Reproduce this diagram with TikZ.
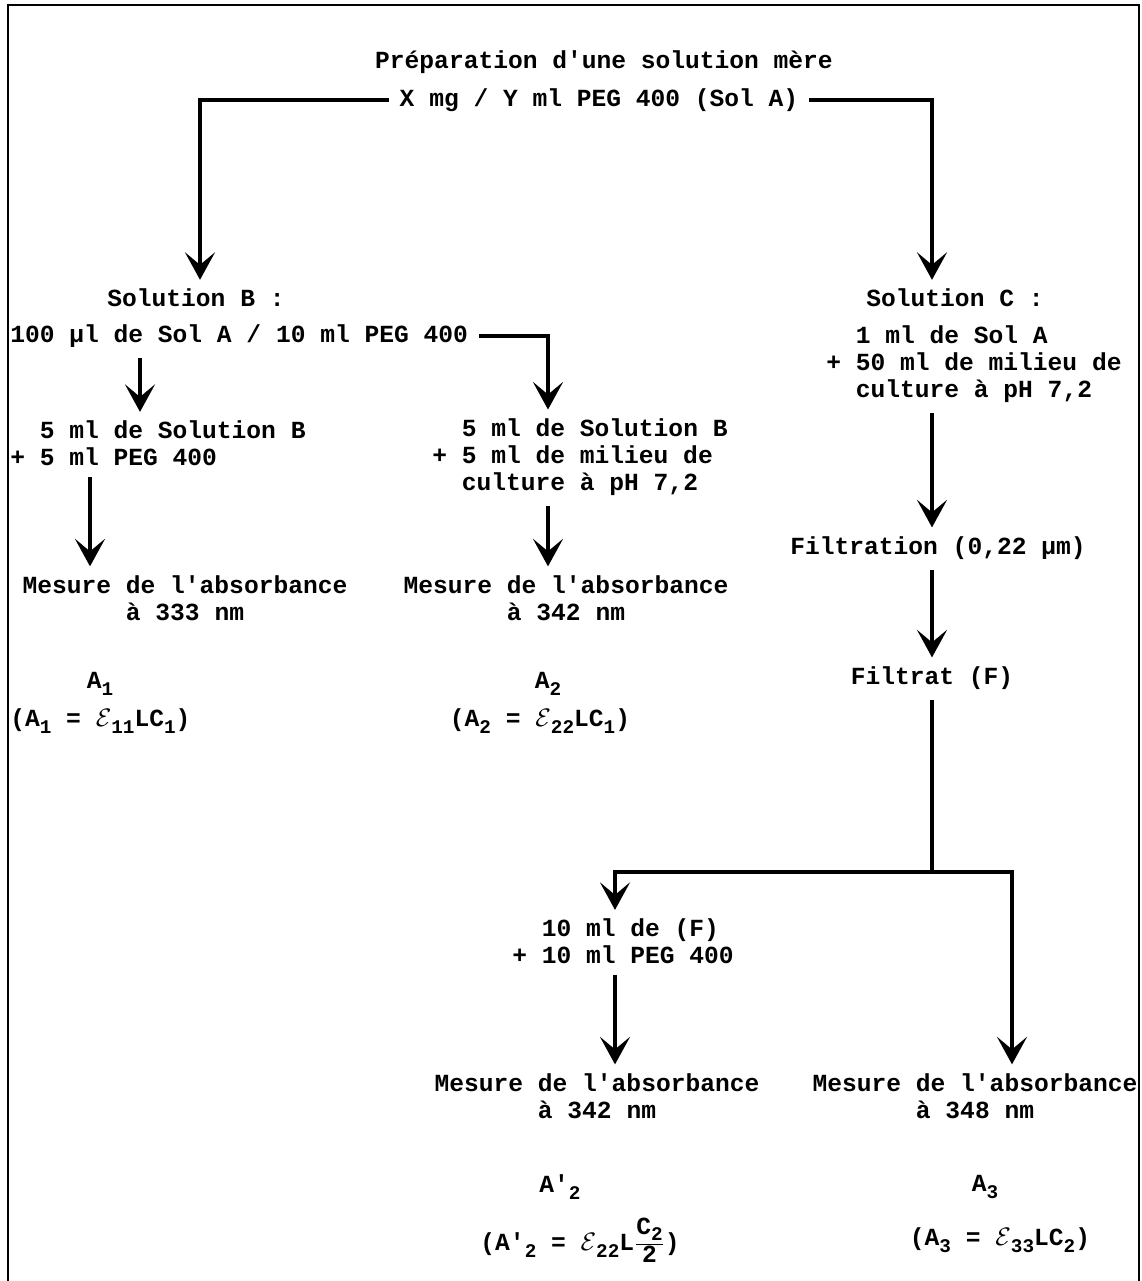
\documentclass[tikz,border=0pt]{standalone}
\usepackage{fontspec}
\setmonofont{Liberation Mono}
\usetikzlibrary{arrows.meta}
\newcommand\dn[1]{\raisebox{-0.5ex}{\fontsize{11}{11}\selectfont #1}}
\newcommand\epsl{\ensuremath{\mathcal{E}}}
\tikzset{
	txt/.style={font=\ttfamily\bfseries\fontsize{14}{15.3}\selectfont, inner sep=0pt},
	flow/.style={line width=2.4pt, -{Stealth[length=5.5mm,width=6mm,inset=2.5mm]}, shorten <=6pt, shorten >=5pt},
	link/.style={line width=2.4pt},
	frame/.style={line width=1.6pt}
}
\begin{document}
\begin{tikzpicture}[x=0.02cm, y=-0.02cm]
	\useasboundingbox (0,0) rectangle (1142,1281);
	\draw[frame] (8,1281) -- (8,5) -- (1139,5) -- (1139,1281);

	% columns of the arrows
	\coordinate (xl) at (200,0);
	\coordinate (xbl) at (140,0);
	\coordinate (xb1) at (90,0);
	\coordinate (xb2) at (548,0);
	\coordinate (xc) at (932,0);
	\coordinate (xd) at (615,0);
	\coordinate (xr) at (1012,0);

	\node[txt] (prep) at (604,62) {Préparation d'une solution mère};
	\node[txt] (solA) at (599,100) {X mg / Y ml PEG 400 (Sol A)};

	% left branch
	\node[txt] (solBt) at (196,298) {Solution B :};
	\node[txt, anchor=west] (solB) at (10,336) {100 µl de Sol A / 10 ml PEG 400};
	\node[txt, anchor=west, align=left] (b1) at (10,443.5) {\hphantom{+ }5 ml de Solution B\\+ 5 ml PEG 400};
	\node[txt, align=center] (m1) at (185,598) {Mesure de l'absorbance\\à 333 nm};
	\node[txt] (a1) at (100,684) {A\dn{1}};
	\node[txt, anchor=west] (f1) at (10,721) {(A\dn{1} = \epsl\dn{11}LC\dn{1})};

	\node[txt, anchor=west, align=left] (b2) at (432,457) {\hphantom{+ }5 ml de Solution B\\+ 5 ml de milieu de\\\hphantom{+ }culture à pH 7,2};
	\node[txt, align=center] (m2) at (566,598) {Mesure de l'absorbance\\à 342 nm};
	\node[txt] (a2) at (548,684) {A\dn{2}};
	\node[txt] (f2) at (540,721) {(A\dn{2} = \epsl\dn{22}LC\dn{1})};

	% right branch
	\node[txt] (solCt) at (955,298) {Solution C :};
	\node[txt, anchor=west, align=left] (solC) at (826,364) {\hphantom{+ }1 ml de Sol A\\+ 50 ml de milieu de\\\hphantom{+ }culture à pH 7,2};
	\node[txt] (filt) at (938,548) {Filtration (0,22 µm)};
	\node[txt] (filtrat) at (932,678) {Filtrat (F)};
	\coordinate (jn) at (932,872);

	\node[txt, anchor=west, align=left] (d1) at (512,941.5) {\hphantom{+ }10 ml de (F)\\+ 10 ml PEG 400};
	\node[txt, align=center] (m3) at (597,1096) {Mesure de l'absorbance\\à 342 nm};
	\node[txt, align=center] (m4) at (975,1096) {Mesure de l'absorbance\\à 348 nm};
	\node[txt] (a3) at (560,1187) {A'\dn{2}};
	\node[txt] (f3) at (580,1240) {(A'\dn{2} = \epsl\dn{22}L$\frac{\raisebox{0.5ex}{C\dn{2}}}{\hbox{2}}$)};
	\node[txt] (a4) at (985,1187) {A\dn{3}};
	\node[txt] (f4) at (1000,1240) {(A\dn{3} = \epsl\dn{33}LC\dn{2})};

	\draw[flow] (solA.west) -| (solBt.north -| xl);
	\draw[flow] (solA.east) -| (solCt.north -| xc);
	\draw[flow] (solB.south -| xbl) -- (b1.north -| xbl);
	\draw[flow] (solB.east) -| (b2.north -| xb2);
	\draw[flow] (b1.south -| xb1) -- (m1.north -| xb1);
	\draw[flow] (b2.south -| xb2) -- (m2.north -| xb2);
	\draw[flow] (solC.south -| xc) -- (filt.north -| xc);
	\draw[flow] (filt.south -| xc) -- (filtrat.north -| xc);
	\draw[link, shorten <=6pt] (filtrat.south) -- (jn);
	\draw[flow, shorten <=0pt] (jn) -| (d1.north -| xd);
	\draw[flow, shorten <=0pt] (jn) -| (m4.north -| xr);
	\draw[flow] (d1.south -| xd) -- (m3.north -| xd);
\end{tikzpicture}
\end{document}
